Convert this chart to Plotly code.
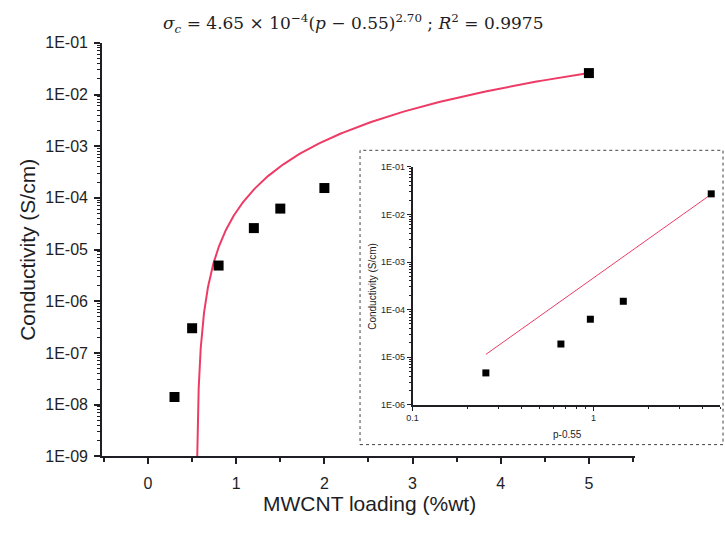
import numpy as np
import plotly.graph_objects as go

# Measured conductivity vs MWCNT loading
loading = [0.3, 0.5, 0.8, 1.2, 1.5, 2.0, 5.0]
conductivity = [1.4e-8, 3.0e-7, 4.9e-6, 2.6e-5, 6.2e-5, 1.55e-4, 2.6e-2]

# Log-log percolation plot (inset): p - p_c vs conductivity
p_minus_pc = [0.254, 0.66, 0.96, 1.46, 4.47]
conductivity_inset = [4.7e-6, 1.9e-5, 6.3e-5, 1.5e-4, 2.7e-2]

# Percolation fit parameters: sigma = A * (p - p_c)^t
fit_A = 4.65e-4
fit_pc = 0.55
fit_t = 2.70
fit_R2 = 0.9975

main_ytick_vals = [1e-1, 1e-2, 1e-3, 1e-4, 1e-5, 1e-6, 1e-7, 1e-8, 1e-9]
main_ytick_text = ["1E-01", "1E-02", "1E-03", "1E-04", "1E-05", "1E-06", "1E-07", "1E-08", "1E-09"]
main_xtick_vals = [0, 1, 2, 3, 4, 5]
inset_ytick_vals = [1e-1, 1e-2, 1e-3, 1e-4, 1e-5, 1e-6]
inset_ytick_text = ["1E-01", "1E-02", "1E-03", "1E-04", "1E-05", "1E-06"]
inset_xtick_vals = [0.1, 1]
inset_xtick_text = ["0.1", "1"]

RED = "#ee3b66"
INK = "#1e1e24"
FONT = "Liberation Sans"

# Fit curves evaluated from the stated power law
dp = np.geomspace(0.0079, 5.0 - fit_pc, 400)
fit_p = fit_pc + dp
fit_sigma = fit_A * dp ** fit_t
dp_inset = np.array([p_minus_pc[0], p_minus_pc[-1]])
fit_sigma_inset = fit_A * dp_inset ** fit_t

# log-scale minor tick positions
main_minor = [m * 10.0 ** e for e in range(-9, -1) for m in range(2, 10)]
inset_yminor = [m * 10.0 ** e for e in range(-6, -1) for m in range(2, 10)]
inset_xminor = [m * 10.0 ** e for e in (-1, 0) for m in range(2, 10) if m * 10.0 ** e <= 5]

fig = go.Figure()
fig.add_trace(go.Scatter(x=fit_p, y=fit_sigma, mode="lines",
                         line=dict(color=RED, width=2), xaxis="x", yaxis="y",
                         showlegend=False))
fig.add_trace(go.Scatter(x=loading, y=conductivity, mode="markers",
                         marker=dict(symbol="square", size=10, color="black"),
                         xaxis="x", yaxis="y", showlegend=False, cliponaxis=False))
fig.add_trace(go.Scatter(x=dp_inset, y=fit_sigma_inset, mode="lines",
                         line=dict(color=RED, width=1), xaxis="x2", yaxis="y2",
                         showlegend=False))
fig.add_trace(go.Scatter(x=p_minus_pc, y=conductivity_inset, mode="markers",
                         marker=dict(symbol="square", size=7, color="black"),
                         xaxis="x2", yaxis="y2", showlegend=False, cliponaxis=False))

W, H = 725, 533


def px_x(v):
    return v / W


def px_y(v):
    return 1 - v / H


axis_common = dict(showgrid=False, zeroline=False, showline=True, linecolor=INK,
                   ticks="outside", tickcolor=INK)

fig.update_layout(
    width=W, height=H,
    margin=dict(l=0, r=0, t=0, b=0),
    paper_bgcolor="white", plot_bgcolor="rgba(0,0,0,0)",
    font=dict(family=FONT, color=INK),
    xaxis=dict(**axis_common, domain=[px_x(97), px_x(634)], range=[-0.52, 5.52],
               anchor="y", linewidth=2, ticklen=6, tickwidth=2,
               ticklabelstandoff=6,
               tickvals=main_xtick_vals, tickfont=dict(size=16),
               minor=dict(ticks="outside", dtick=0.5, tick0=0, ticklen=4,
                          tickwidth=2, tickcolor=INK)),
    yaxis=dict(**axis_common, type="log", domain=[px_y(463), px_y(36)],
               range=[-9, -1], anchor="x", linewidth=2, ticklen=6, tickwidth=2,
               ticklabelstandoff=3,
               tickvals=main_ytick_vals, ticktext=main_ytick_text,
               tickfont=dict(size=16),
               minor=dict(ticks="outside", tickmode="array", tickvals=main_minor,
                          ticklen=3, tickwidth=1, tickcolor=INK)),
    xaxis2=dict(**axis_common, type="log", domain=[px_x(410), px_x(720)],
                range=[-1, np.log10(5.0)], anchor="y2", linewidth=1.5,
                ticklen=4, tickwidth=1,
                tickvals=inset_xtick_vals, ticktext=inset_xtick_text,
                tickfont=dict(size=9),
                minor=dict(ticks="outside", tickmode="array", tickvals=inset_xminor,
                           ticklen=2, tickwidth=1, tickcolor=INK)),
    yaxis2=dict(**axis_common, type="log", domain=[px_y(410), px_y(164)],
                range=[-6, -1], anchor="x2", linewidth=1.5, ticklen=4, tickwidth=1,
                tickvals=inset_ytick_vals, ticktext=inset_ytick_text,
                tickfont=dict(size=9),
                minor=dict(ticks="outside", tickmode="array", tickvals=inset_yminor,
                           ticklen=2, tickwidth=1, tickcolor=INK)),
    shapes=[dict(type="rect", xref="paper", yref="paper",
                 x0=px_x(357), x1=px_x(723), y0=px_y(451), y1=px_y(147),
                 line=dict(color="#444", width=1, dash="dot"),
                 fillcolor="white", layer="below")],
)

title_text = ("<i>σ<sub>c</sub></i> = 4.65 × 10<sup>−4</sup>(<i>p</i> − 0.55)<sup>2.70</sup>"
              " ; <i>R</i><sup>2</sup> = 0.9975")

annotations = [
    dict(text=title_text, x=px_x(350), y=px_y(16), xref="paper", yref="paper",
         showarrow=False, font=dict(family="DejaVu Serif", size=17, color=INK),
         xanchor="center", yanchor="middle"),
    dict(text="MWCNT loading (%wt)", x=px_x(367), y=px_y(512), xref="paper",
         yref="paper", showarrow=False, font=dict(size=21),
         xanchor="center", yanchor="middle"),
    dict(text="Conductivity (S/cm)", x=px_x(21), y=px_y(250), xref="paper",
         yref="paper", showarrow=False, font=dict(size=21), textangle=-90,
         xanchor="center", yanchor="middle"),
    dict(text="p-0.55", x=px_x(566), y=px_y(441), xref="paper", yref="paper",
         showarrow=False, font=dict(size=10), xanchor="center", yanchor="middle"),
    dict(text="Conductivity (S/cm)", x=px_x(370), y=px_y(287), xref="paper",
         yref="paper", showarrow=False, font=dict(size=10), textangle=-90,
         xanchor="center", yanchor="middle"),
]
fig.update_layout(annotations=annotations)

fig.write_html("out.html")
